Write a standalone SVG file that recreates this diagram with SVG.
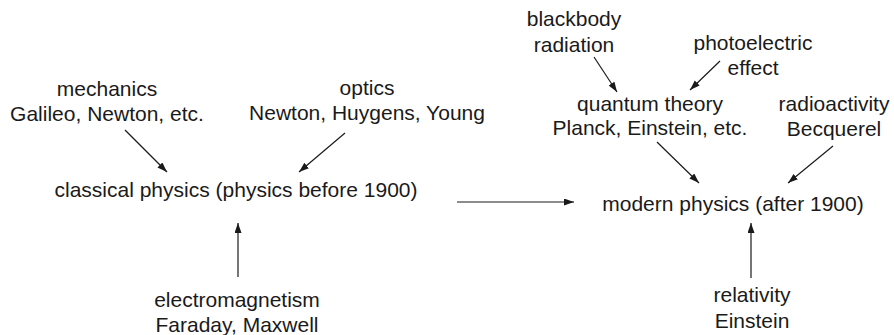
<svg xmlns="http://www.w3.org/2000/svg" width="894" height="335" viewBox="0 0 894 335">
<style>
text{font-family:"Liberation Sans",Arial,sans-serif;font-size:21px;fill:#1a1a1a;text-anchor:middle}
.c line{stroke:#1a1a1a;stroke-width:1.2;fill:none;marker-end:url(#ah)}
</style>
<defs>
<marker id="ah" markerUnits="userSpaceOnUse" markerWidth="11" markerHeight="8" refX="10" refY="3.5" orient="auto">
<path d="M0,0 L10,3.5 L0,7 z" fill="#1a1a1a"/>
</marker>
</defs>
<rect width="894" height="335" fill="#fff"/>
<g id="mechanics"><text x="107" y="96">mechanics</text><text x="107" y="121">Galileo, Newton, etc.</text></g>
<g id="optics"><text x="367" y="95">optics</text><text x="367" y="120">Newton, Huygens, Young</text></g>
<g id="classical"><text x="236" y="197">classical physics (physics before 1900)</text></g>
<g id="electromagnetism"><text x="237" y="307">electromagnetism</text><text x="237" y="332">Faraday, Maxwell</text></g>
<g id="blackbody"><text x="574" y="26">blackbody</text><text x="574" y="52">radiation</text></g>
<g id="photoelectric"><text x="753" y="50">photoelectric</text><text x="753" y="75">effect</text></g>
<g id="quantum"><text x="650" y="111">quantum theory</text><text x="650" y="135">Planck, Einstein, etc.</text></g>
<g id="radioactivity"><text x="834" y="111">radioactivity</text><text x="834" y="136">Becquerel</text></g>
<g id="modern"><text x="733" y="211">modern physics (after 1900)</text></g>
<g id="relativity"><text x="752" y="302">relativity</text><text x="752" y="328">Einstein</text></g>
<g id="connectors" class="c">
<line x1="125" y1="130" x2="167" y2="172"/>
<line x1="345" y1="133" x2="299" y2="172"/>
<line x1="238" y1="277" x2="238" y2="223"/>
<line x1="457" y1="202" x2="574" y2="202"/>
<line x1="594" y1="57" x2="617" y2="92"/>
<line x1="720" y1="61" x2="690" y2="90"/>
<line x1="657" y1="142" x2="699" y2="183"/>
<line x1="833" y1="146" x2="788" y2="183"/>
<line x1="751" y1="278" x2="751" y2="223"/>
</g>
</svg>
